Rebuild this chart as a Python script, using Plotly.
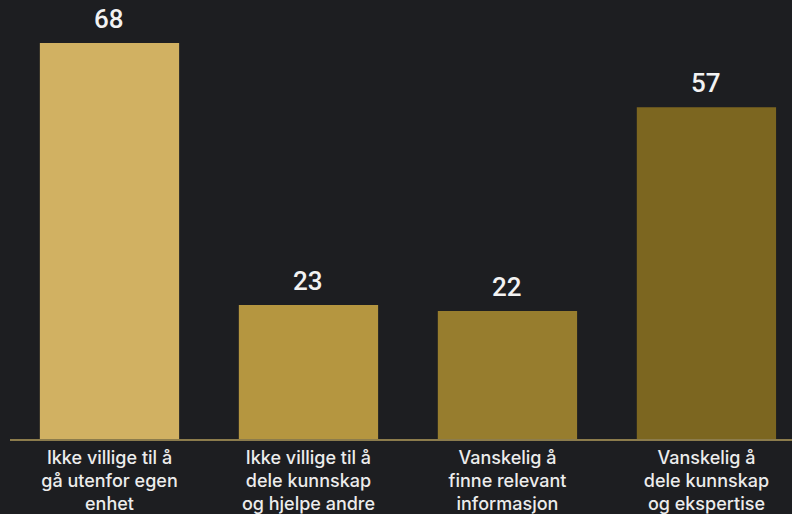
import plotly.graph_objects as go

categories = [
    "Ikke villige til å<br>gå utenfor egen<br>enhet",
    "Ikke villige til å<br>dele kunnskap<br>og hjelpe andre",
    "Vanskelig å<br>finne relevant<br>informasjon",
    "Vanskelig å<br>dele kunnskap<br>og ekspertise",
]
values = [68, 23, 22, 57]
colors = ["#d1b162", "#b59640", "#977d2e", "#7c6620"]

fig = go.Figure()
fig.add_trace(go.Bar(
    x=list(range(len(categories))),
    y=values,
    width=0.7,
    marker=dict(color=colors, line=dict(width=0)),
    hoverinfo="skip",
))

for i, v in enumerate(values):
    fig.add_annotation(
        x=i, y=v, text=str(v), showarrow=False, yanchor="bottom", yshift=7,
        font=dict(family="Roboto", size=26, color="#f2f2f2", weight=500),
    )

fig.update_layout(
    width=792, height=514,
    margin=dict(l=10, r=0, t=0, b=73),
    paper_bgcolor="#1d1e21",
    plot_bgcolor="#1d1e21",
    showlegend=False,
    xaxis=dict(
        range=[-0.5, 3.43],
        tickmode="array",
        tickvals=list(range(len(categories))),
        ticktext=categories,
        tickfont=dict(family="Inter", size=18, color="#ececec", weight=500),
        showgrid=False, zeroline=False,
        showline=True, linecolor="#8c7c4c", linewidth=2,
        ticks="", ticklabelstandoff=1,
    ),
    yaxis=dict(range=[0, 75.4], visible=False, showgrid=False, zeroline=False),
)

fig.write_html("out.html")
